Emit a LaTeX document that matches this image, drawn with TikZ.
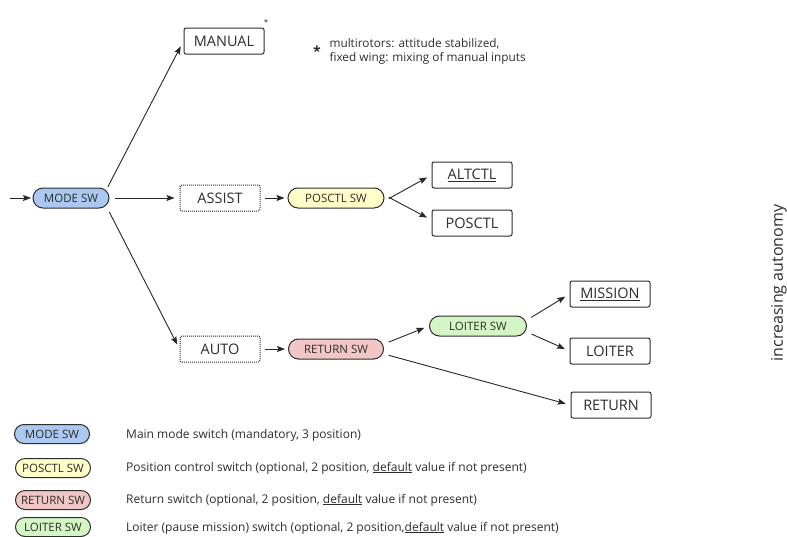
\documentclass[tikz,border=0pt]{standalone}
\usepackage{fontspec}
\setmainfont{Open Sans}
\usepackage{xcolor}
\usetikzlibrary{arrows.meta, positioning}

\definecolor{modeblue}{RGB}{170,200,240}
\definecolor{posyellow}{RGB}{255,253,200}
\definecolor{retpink}{RGB}{242,198,198}
\definecolor{loitgreen}{RGB}{212,245,196}
\definecolor{inkgray}{RGB}{45,45,45}

\begin{document}
\begin{tikzpicture}[
    x=1pt, y=-1pt,
    modebox/.style  = {rectangle, draw=inkgray, line width=1pt, rounded corners=2pt,
                       minimum width=80pt, minimum height=26pt, inner sep=0pt,
                       font=\fontsize{14.5}{17}\selectfont, text=inkgray},
    groupbox/.style = {modebox, densely dotted},
    swpill/.style   = {rectangle, draw=inkgray, line width=1pt, rounded corners=10pt,
                       minimum height=20pt, inner sep=0pt,
                       font=\fontsize{11.5}{13}\selectfont, text=inkgray},
    legsw/.style    = {swpill, minimum width=75pt, minimum height=19pt, rounded corners=9.5pt},
    legtext/.style  = {font=\fontsize{12}{13}\selectfont, text=inkgray, inner xsep=0pt},
    notetext/.style = {font=\fontsize{11.8}{14}\selectfont, text=inkgray, align=left},
    arrow/.style    = {-{Stealth[length=8pt, width=6pt, inset=1.5pt]}, line width=0.9pt,
                       draw=black!85, shorten <=5pt, shorten >=5pt}
]
\useasboundingbox (0,0) rectangle (787,536);

% ========= switches and modes =========
\coordinate (start) at (10,198);
\node[swpill, fill=modeblue, minimum width=76pt]  (modesw)   at (71,198)  {MODE SW};
\node[modebox]                                    (manual)   at (224,41)  {MANUAL};
\node[groupbox]                                   (assist)   at (220,198) {ASSIST};
\node[groupbox]                                   (auto)     at (220,349) {AUTO};
\node[swpill, fill=posyellow, minimum width=96pt] (posctlsw) at (336,198) {POSCTL SW};
\node[swpill, fill=retpink, minimum width=95pt]   (returnsw) at (336,349) {RETURN SW};
\node[modebox]                                    (altctl)   at (472,175) {\underline{ALTCTL}};
\node[modebox]                                    (posctl)   at (472,223) {POSCTL};
\node[swpill, fill=loitgreen, minimum width=97pt] (loitersw) at (478,326) {LOITER SW};
\node[modebox]                                    (mission)  at (610,294) {\underline{MISSION}};
\node[modebox]                                    (loiter)   at (610,351) {LOITER};
\node[modebox]                                    (return)   at (611,405) {RETURN};

% ========= connectors =========
\draw[arrow, shorten <=0pt, shorten >=1.5pt] (start) -- (modesw.west);
\draw[arrow, shorten <=1pt, shorten >=6pt] ([xshift=-2pt]modesw.north east) -- (manual.west);
\draw[arrow] (modesw.east)   -- (assist.west);
\draw[arrow, shorten <=4pt] ([xshift=-2pt]modesw.south east) -- (auto.west);
\draw[arrow, shorten <=4pt, shorten >=3pt] (assist.east) -- (posctlsw.west);
\draw[arrow, shorten >=3pt, shorten <=4pt] (auto.east)   -- (returnsw.west);
\draw[arrow] ([yshift=-3pt]posctlsw.east) -- (altctl.west);
\draw[arrow] ([yshift=3pt]posctlsw.east)  -- ([yshift=3pt]posctl.west);
\draw[arrow] ([yshift=5pt]returnsw.east)  -- (loitersw.west);
\draw[arrow] ([yshift=-5pt]returnsw.east) -- (return.west);
\draw[arrow] ([yshift=6pt]loitersw.east)  -- (mission.west);
\draw[arrow] ([yshift=-6pt]loitersw.east) -- (loiter.west);

% ========= note =========
\node[font=\fontsize{8}{8}\selectfont, text=inkgray] (mark) at (266,22) {*};
\node[font=\bfseries\fontsize{14}{14}\selectfont, text=inkgray] (star) at (317,51) {*};
\node[notetext, anchor=west] (note) at (326,51)
    {multirotors: attitude stabilized,\\fixed wing: mixing of manual inputs};

\node[font=\fontsize{16}{18}\selectfont, text=inkgray, rotate=90] (autonomy) at (779,283)
    {increasing autonomy};

% ========= legend =========
\node[legsw, fill=modeblue]  (lgmode)   at (52,434) {MODE SW};
\node[legsw, fill=posyellow] (lgposctl) at (53,468) {POSCTL SW};
\node[legsw, fill=retpink]   (lgreturn) at (53,500) {RETURN SW};
\node[legsw, fill=loitgreen] (lgloiter) at (53,527) {LOITER SW};

\node[legtext, anchor=west] at (126,435) {Main mode switch (mandatory, 3 position)};
\node[legtext, anchor=west] at (126,468) {Position control switch (optional, 2 position, \underline{default} value if not present)};
\node[legtext, anchor=west] at (126,500) {Return switch (optional, 2 position, \underline{default} value if not present)};
\node[legtext, anchor=west] at (126,528) {Loiter (pause mission) switch (optional, 2 position,\underline{default} value if not present)};

\end{tikzpicture}
\end{document}
